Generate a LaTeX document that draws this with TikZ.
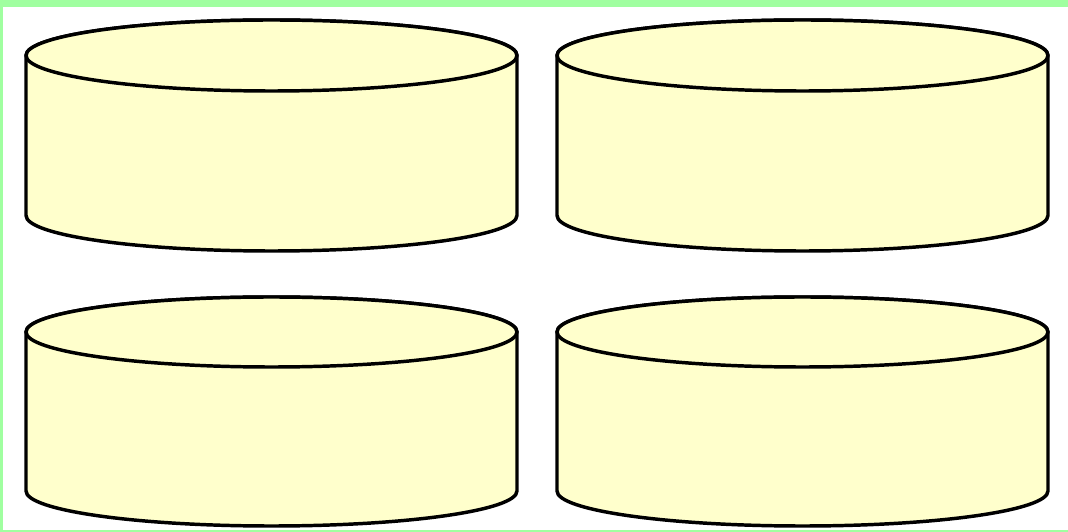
\documentclass[tikz,border=0pt]{standalone}
\definecolor{frame}{RGB}{160,255,160}
\definecolor{tank}{RGB}{255,255,204}
\begin{document}
\begin{tikzpicture}[x=0.75pt,y=0.75pt,
  drum/.style={fill=tank,draw=black,line width=2.6pt,line join=round}]
  % frame
  \fill[frame] (0,0) rectangle (1068,532);
  \fill[white] (3,2) rectangle (1068,525);
  \useasboundingbox (0,0) rectangle (1068,532);
  % drums
  \foreach \cx/\cy/\ry/\h in {271.5/476.5/35.5/160, 802.5/476.5/35.5/160, 271.5/200/35/159, 802.5/200/35/159}{
    \draw[drum] (\cx-245.5,\cy) -- (\cx-245.5,\cy-\h)
      arc[start angle=180,end angle=360,x radius=245.5,y radius=\ry]
      -- (\cx+245.5,\cy)
      arc[start angle=0,end angle=180,x radius=245.5,y radius=\ry] -- cycle;
    \draw[drum] (\cx,\cy) ellipse[x radius=245.5,y radius=\ry];
  }
\end{tikzpicture}
\end{document}
